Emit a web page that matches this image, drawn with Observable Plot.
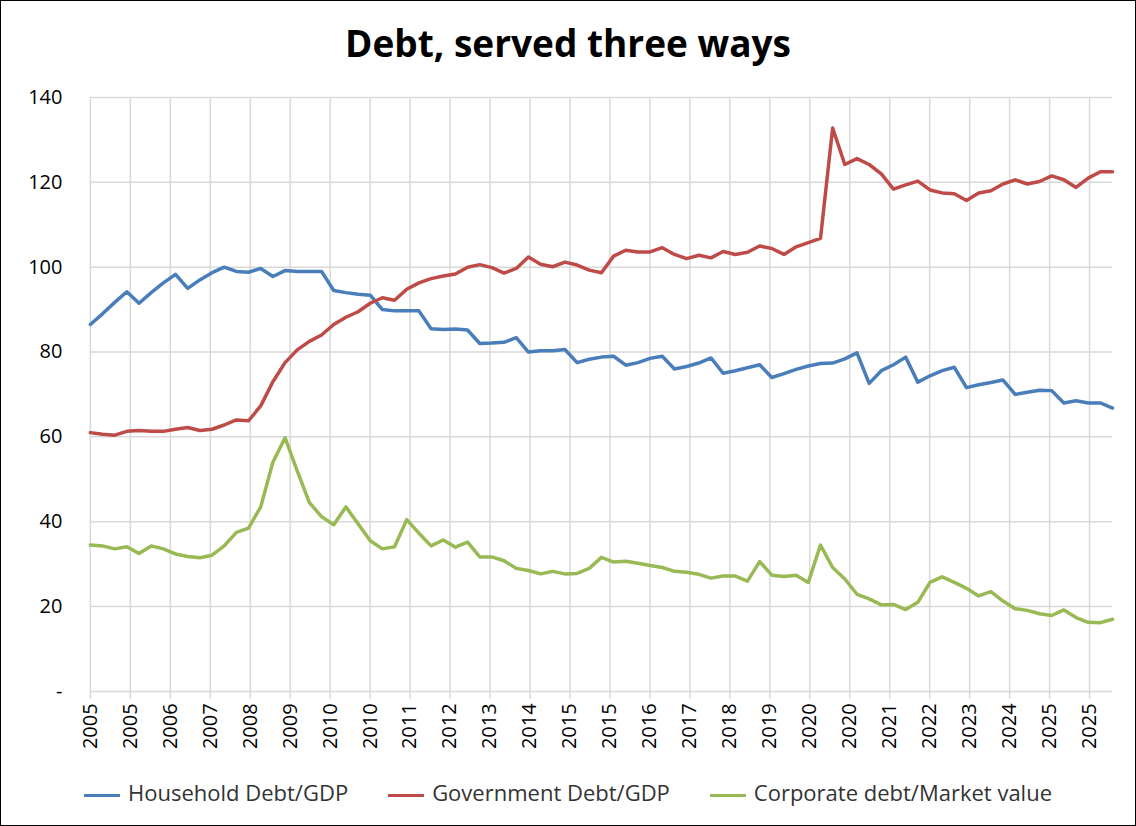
<!DOCTYPE html>
<html><head><meta charset="utf-8">
<script src="https://cdn.jsdelivr.net/npm/d3@7"></script>
<script src="https://cdn.jsdelivr.net/npm/@observablehq/plot@0.6"></script>
<style>
body{margin:0;background:#fff;font-family:"Open Sans","Noto Sans",sans-serif;}
#wrap{width:1134px;height:824px;border:1px solid #000;position:relative;overflow:hidden}
#title{position:absolute;top:16px;width:100%;text-align:center;font-size:37px;font-weight:bold;color:#000}
#chart{position:absolute;top:80px;left:0}
#legend{position:absolute;top:776px;left:0;width:100%;display:flex;justify-content:center;gap:40px;font-size:22px;color:#333}
#legend span.sw{display:inline-block;width:36px;height:3px;vertical-align:middle;margin-right:8px}
</style></head>
<body><div id="wrap"><div id="title">Debt, served three ways</div><div id="chart"></div><div id="legend"></div></div>
<script>
const tickLabels=["2005","2005","2006","2007","2008","2009","2010","2010","2011","2012","2013","2014","2015","2015","2016","2017","2018","2019","2020","2020","2021","2022","2023","2024","2025","2025"];
const household=[86.5,89,91.7,94.2,91.5,94,96.3,98.3,95,97,98.7,100,99,98.8,99.7,97.8,99.2,99,99,99,94.5,94,93.6,93.4,90,89.7,89.7,89.7,85.5,85.3,85.4,85.2,82,82.1,82.3,83.4,80,80.3,80.3,80.6,77.5,78.3,78.8,79,76.9,77.5,78.5,79,76,76.6,77.4,78.6,75,75.6,76.3,77,74,74.9,75.9,76.7,77.3,77.4,78.4,79.8,72.6,75.6,77,78.8,72.9,74.4,75.6,76.4,71.6,72.3,72.8,73.4,70,70.5,71,70.9,68,68.5,68,68,66.8];
const government=[61,60.6,60.4,61.3,61.5,61.3,61.3,61.8,62.2,61.5,61.8,62.8,64,63.8,67.3,73,77.5,80.5,82.5,84,86.5,88.2,89.5,91.5,92.8,92.2,94.8,96.3,97.3,97.9,98.4,100,100.6,99.9,98.6,99.7,102.4,100.7,100.1,101.2,100.5,99.3,98.7,102.6,104,103.6,103.6,104.6,103,102,102.8,102.2,103.7,103,103.5,105,104.4,103,104.8,105.8,106.8,132.8,124.2,125.6,124.2,122,118.4,119.4,120.3,118.2,117.5,117.3,115.7,117.5,118,119.6,120.6,119.6,120.2,121.5,120.6,118.8,121,122.5,122.5];
const corporate=[34.5,34.3,33.6,34.1,32.5,34.3,33.6,32.4,31.8,31.5,32.1,34.3,37.5,38.5,43.5,54,59.8,52,44.5,41.2,39.3,43.5,39.5,35.5,33.6,34.1,40.5,37.3,34.3,35.7,34,35.2,31.7,31.7,30.8,29,28.5,27.7,28.3,27.7,27.8,29,31.6,30.5,30.7,30.2,29.7,29.2,28.3,28.1,27.6,26.7,27.2,27.2,26,30.6,27.4,27.1,27.4,25.7,34.5,29.2,26.5,22.9,21.8,20.4,20.5,19.3,21,25.7,27,25.7,24.3,22.5,23.5,21.3,19.5,19.1,18.3,17.9,19.2,17.4,16.3,16.2,17];
const seriesNames=["Household Debt/GDP","Government Debt/GDP","Corporate debt/Market value"];
const colors=["#4a7ebb","#be4b48","#98b954"];
const yTicks=[0,20,40,60,80,100,120,140];

const rows=[];
[household,government,corporate].forEach((arr,s)=>arr.forEach((v,i)=>rows.push({i,v,s:seriesNames[s]})));
const step=(1113-89)/(household.length-1);
const tickPos=tickLabels.map((_,k)=>k*40.04/step);

const plot=Plot.plot({
  width:1136,height:690,marginLeft:89,marginRight:23,marginTop:16,marginBottom:79,
  style:{fontFamily:"'Open Sans','Noto Sans',sans-serif",fontSize:"20px",color:"#000"},
  x:{domain:[0,household.length-1]},
  y:{domain:[0,140]},
  color:{domain:seriesNames,range:colors},
  marks:[
    Plot.gridY(yTicks,{stroke:"#d9d9d9",strokeOpacity:1,strokeWidth:1.5}),
    Plot.gridX(tickPos,{stroke:"#d9d9d9",strokeOpacity:1,strokeWidth:1.5}),
    Plot.axisY(yTicks,{tickSize:0,tickPadding:28,fontSize:20,tickFormat:d=>d===0?"-":d,label:null}),
    Plot.axisX(tickPos,{tickSize:8,tickRotate:-90,fontSize:20,tickPadding:4,stroke:"#d9d9d9",strokeWidth:1.5,tickFormat:(d,k)=>tickLabels[k],label:null}),
    Plot.line(rows,{x:"i",y:"v",z:"s",stroke:"s",strokeWidth:3.5,curve:"linear"})
  ]
});
document.getElementById("chart").appendChild(plot);
const lg=document.getElementById("legend");
seriesNames.forEach((n,k)=>{const d=document.createElement("div");d.innerHTML=`<span class="sw" style="background:${colors[k]}"></span>${n}`;lg.appendChild(d);});
</script></body></html>
